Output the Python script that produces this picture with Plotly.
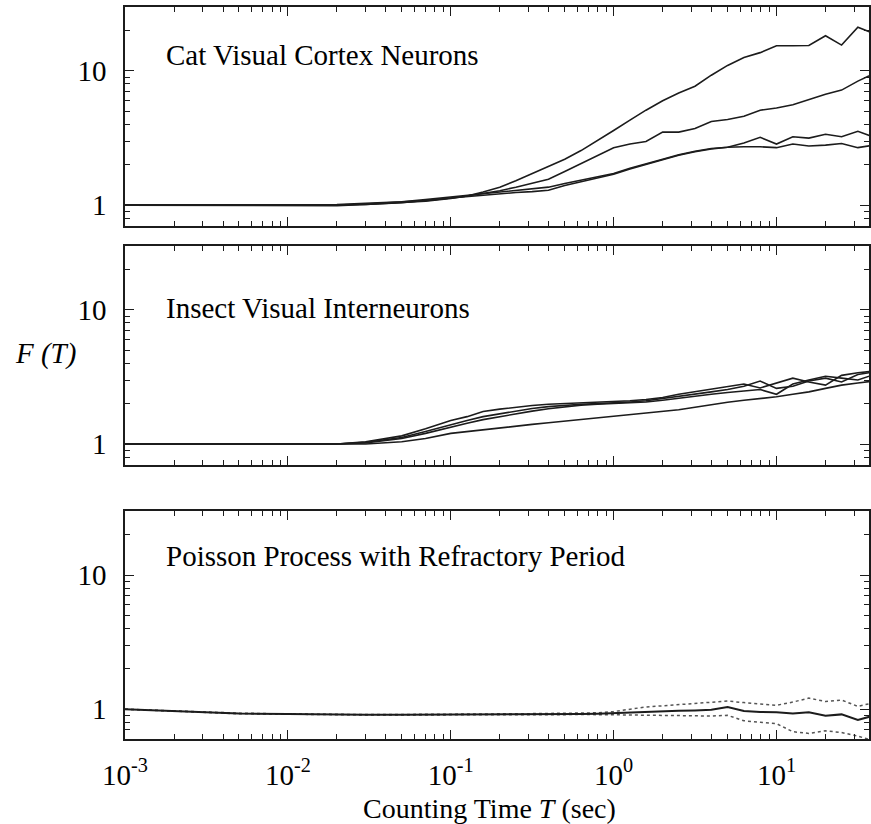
import plotly.graph_objects as go

# counting time grid (sec)
T = [0.001, 0.002, 0.005, 0.01, 0.02, 0.03, 0.05, 0.07,
     0.1, 0.126, 0.158, 0.2, 0.251, 0.316, 0.398, 0.501, 0.631, 0.794,
     1.0, 1.26, 1.58, 2.0, 2.51, 3.16, 3.98, 5.01, 6.31, 7.94,
     10.0, 12.6, 15.8, 20.0, 25.1, 31.6, 39.8]

# Cat visual cortex neurons
cat_1 = [1.0, 1.0, 1.0, 0.99, 0.99, 1.01, 1.04, 1.07,
         1.12, 1.17, 1.25, 1.36, 1.52, 1.72, 1.96, 2.2, 2.55, 3.05,
         3.6, 4.3, 5.1, 6.0, 6.85, 7.7, 9.3, 11.0, 12.6, 13.7,
         15.4, 15.4, 15.5, 18.3, 15.6, 21.2, 19.0]
cat_2 = [1.0, 1.0, 1.0, 1.0, 1.0, 1.01, 1.04, 1.08,
         1.13, 1.17, 1.22, 1.28, 1.36, 1.45, 1.56, 1.78, 2.05, 2.35,
         2.68, 2.85, 2.98, 3.5, 3.5, 3.72, 4.2, 4.35, 4.6, 5.1,
         5.3, 5.6, 6.1, 6.7, 7.2, 8.4, 9.6]
cat_3 = [1.0, 1.0, 1.0, 1.0, 1.01, 1.03, 1.06, 1.1,
         1.15, 1.18, 1.22, 1.25, 1.28, 1.32, 1.36, 1.45, 1.54, 1.63,
         1.72, 1.88, 2.04, 2.2, 2.37, 2.52, 2.64, 2.7, 2.9, 3.2,
         2.85, 3.23, 3.16, 3.37, 3.23, 3.55, 3.2]
cat_4 = [1.0, 1.0, 1.0, 0.99, 1.0, 1.02, 1.05, 1.08,
         1.13, 1.16, 1.19, 1.21, 1.24, 1.26, 1.29, 1.4, 1.5, 1.6,
         1.7, 1.86, 2.02, 2.18, 2.35, 2.5, 2.62, 2.7, 2.72, 2.72,
         2.68, 2.85, 2.76, 2.8, 2.88, 2.68, 2.8]

# Insect visual interneurons
ins_1 = [1.0, 1.0, 1.0, 1.0, 1.0, 1.04, 1.15, 1.3,
         1.5, 1.6, 1.75, 1.82, 1.88, 1.94, 1.98, 2.0, 2.02, 2.04,
         2.06, 2.1, 2.15, 2.22, 2.35, 2.45, 2.55, 2.68, 2.8, 2.62,
         2.85, 3.1, 2.9, 2.75, 3.25, 3.4, 3.5]
ins_2 = [1.0, 1.0, 1.0, 1.0, 1.0, 1.03, 1.12, 1.24,
         1.4, 1.5, 1.6, 1.68, 1.76, 1.84, 1.9, 1.95, 1.98, 2.0,
         2.02, 2.06, 2.1, 2.18, 2.25, 2.35, 2.45, 2.55, 2.7, 2.95,
         2.6, 2.7, 2.95, 3.1, 2.9, 3.3, 3.45]
ins_3 = [1.0, 1.0, 1.0, 1.0, 1.0, 1.02, 1.1, 1.2,
         1.34, 1.43, 1.52, 1.6, 1.68, 1.76, 1.83, 1.9, 1.95, 1.98,
         2.0, 2.04, 2.06, 2.12, 2.2, 2.28, 2.35, 2.42, 2.5, 2.55,
         2.35, 2.8, 3.0, 3.2, 3.1, 3.0, 3.3]
ins_4 = [1.0, 1.0, 1.0, 1.0, 1.0, 1.0, 1.04, 1.1,
         1.2, 1.24, 1.28, 1.32, 1.36, 1.4, 1.44, 1.48, 1.52, 1.57,
         1.62, 1.66, 1.7, 1.74, 1.8, 1.88, 1.97, 2.05, 2.12, 2.18,
         2.25, 2.35, 2.45, 2.6, 2.75, 2.85, 2.95]

# Poisson process with refractory period: mean and +/- band
poi_mean = [1.0, 0.97, 0.93, 0.92, 0.91, 0.91, 0.91, 0.91,
            0.91, 0.912, 0.914, 0.917, 0.918, 0.918, 0.918, 0.918, 0.92, 0.925,
            0.935, 0.95, 0.965, 0.97, 0.975, 0.98, 0.99, 1.04, 0.97, 0.955,
            0.95, 0.93, 0.95, 0.895, 0.915, 0.83, 0.9]
poi_upper = [1.0, 0.97, 0.935, 0.922, 0.913, 0.913, 0.914, 0.914,
             0.915, 0.917, 0.92, 0.922, 0.925, 0.927, 0.93, 0.932, 0.935, 0.94,
             0.96, 1.0, 1.04, 1.06, 1.08, 1.1, 1.12, 1.15, 1.12, 1.09,
             1.07, 1.13, 1.21, 1.14, 1.17, 1.05, 1.12]
poi_lower = [1.0, 0.97, 0.925, 0.918, 0.907, 0.906, 0.906, 0.905,
             0.905, 0.905, 0.905, 0.906, 0.908, 0.909, 0.91, 0.911, 0.912, 0.915,
             0.91, 0.905, 0.9, 0.895, 0.89, 0.887, 0.89, 0.9, 0.82, 0.8,
             0.78, 0.68, 0.66, 0.69, 0.67, 0.63, 0.58]

X_TICKS = [0.001, 0.01, 0.1, 1, 10]
X_TICKTEXT = ["10<sup>-3</sup>", "10<sup>-2</sup>", "10<sup>-1</sup>",
              "10<sup>0</sup>", "10<sup>1</sup>"]
Y_TICKS = [1, 10]
Y_TICKTEXT = ["1", "10"]

PANELS = [
    ("Cat Visual Cortex Neurons", [cat_1, cat_2, cat_3, cat_4]),
    ("Insect Visual Interneurons", [ins_1, ins_2, ins_3, ins_4]),
]

SERIF = "Liberation Serif, Times New Roman, serif"
INK = "#1c1c1c"
FS = 29

x_minor = [m * d for d in [0.001, 0.01, 0.1, 1] for m in range(2, 10)] + [20, 30]
y_minor = [0.6, 0.7, 0.8, 0.9, 2, 3, 4, 5, 6, 7, 8, 9, 20]

fig = go.Figure()

for i, (name, curves) in enumerate(PANELS):
    ax = "" if i == 0 else str(i + 1)
    for c in curves:
        fig.add_trace(go.Scatter(
            x=T, y=c, mode="lines", xaxis="x" + ax, yaxis="y" + ax,
            line=dict(color=INK, width=1.6), showlegend=False,
        ))

fig.add_trace(go.Scatter(x=T, y=poi_upper, mode="lines", xaxis="x3", yaxis="y3",
                         line=dict(color="#555", width=1.5, dash="dot"), showlegend=False))
fig.add_trace(go.Scatter(x=T, y=poi_lower, mode="lines", xaxis="x3", yaxis="y3",
                         line=dict(color="#555", width=1.5, dash="dot"), showlegend=False))
fig.add_trace(go.Scatter(x=T, y=poi_mean, mode="lines", xaxis="x3", yaxis="y3",
                         line=dict(color=INK, width=2), showlegend=False))


def xaxis(anchor, labels):
    return dict(
        type="log", range=[-3, 1.568], anchor=anchor,
        showline=True, linecolor=INK, linewidth=1.6, mirror="allticks",
        ticks="inside", ticklen=9, tickwidth=1.4, tickcolor=INK,
        tickvals=X_TICKS, ticktext=X_TICKTEXT, showticklabels=labels,
        tickfont=dict(family=SERIF, size=FS, color="black"), ticklabelstandoff=9,
        minor=dict(ticks="inside", ticklen=5, tickwidth=1.2, tickcolor=INK,
                   tickvals=x_minor),
        showgrid=False, zeroline=False,
    )


def yaxis(anchor, domain, lo):
    return dict(
        type="log", range=[lo, 1.477], anchor=anchor, domain=domain,
        showline=True, linecolor=INK, linewidth=1.6, mirror="allticks",
        ticks="inside", ticklen=9, tickwidth=1.4, tickcolor=INK,
        tickvals=Y_TICKS, ticktext=Y_TICKTEXT,
        tickfont=dict(family=SERIF, size=FS, color="black"), ticklabelstandoff=11,
        minor=dict(ticks="inside", ticklen=5, tickwidth=1.2, tickcolor=INK,
                   tickvals=y_minor),
        showgrid=False, zeroline=False,
    )


fig.update_layout(
    width=871, height=824,
    margin=dict(l=125, r=0, t=7, b=85),
    paper_bgcolor="white", plot_bgcolor="white",
    xaxis=xaxis("y", False), yaxis=yaxis("x", [0.701, 1.0], -0.155),
    xaxis2=xaxis("y2", False), yaxis2=yaxis("x2", [0.3746, 0.6735], -0.155),
    xaxis3=xaxis("y3", True), yaxis3=yaxis("x3", [0.0, 0.3115], -0.222),
)

titles = [
    ("Cat Visual Cortex Neurons", "y domain", 0.781, ""),
    ("Insect Visual Interneurons", "y2 domain", 0.717, "2"),
    ("Poisson Process with Refractory Period", "y3 domain", 0.802, "3"),
]
for text, yref, yy, ax in titles:
    fig.add_annotation(
        text=text, xref=("x" + ax + " domain"), yref=yref, x=0.052, y=yy,
        xanchor="left", yanchor="middle", showarrow=False,
        font=dict(family=SERIF, size=FS, color="black"),
    )

fig.add_annotation(
    text="<i>F (T)</i>", xref="paper", yref="paper", x=-0.107, y=0.527,
    xanchor="center", yanchor="middle", showarrow=False,
    font=dict(family=SERIF, size=FS, color="black"),
)
fig.add_annotation(
    text="Counting Time <i>T</i> (sec)", xref="paper", yref="paper", x=0.49, y=-0.095,
    xanchor="center", yanchor="middle", showarrow=False,
    font=dict(family=SERIF, size=28, color="black"),
)

fig.write_html("out.html", config={"displayModeBar": False},
               post_script="document.body.style.margin = '0px';")
